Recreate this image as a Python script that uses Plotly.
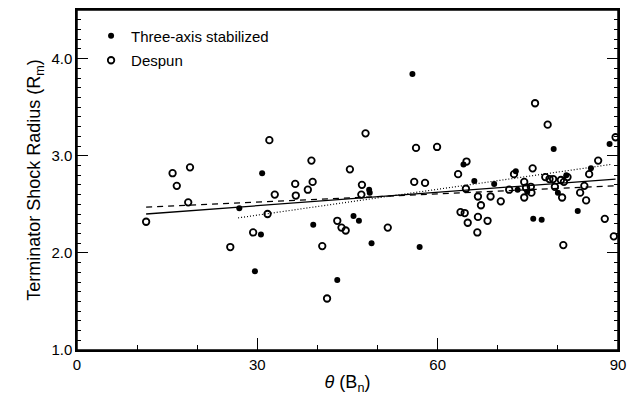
import plotly.graph_objects as go

# Three-axis stabilized (filled)
three_x = [30.8, 27.0, 30.6, 29.6, 55.8, 48.6, 48.7, 46.0, 46.9, 39.3, 49.0, 57.0, 43.3,
           64.3, 79.3, 88.6, 85.5, 73.0, 81.4, 66.1, 69.4, 73.3, 74.9, 80.0, 83.3, 75.9, 77.3]
three_y = [2.82, 2.46, 2.19, 1.81, 3.84, 2.65, 2.62, 2.38, 2.33, 2.29, 2.10, 2.06, 1.72,
           2.91, 3.07, 3.12, 2.87, 2.84, 2.80, 2.74, 2.71, 2.65, 2.63, 2.62, 2.43, 2.35, 2.34]

# Despun (open)
despun_x = [32.0, 15.9, 18.8, 16.6, 18.5, 31.7, 11.5, 29.3, 25.5,
            48.0, 56.4, 59.9, 39.0, 45.4, 63.4, 36.3, 39.2, 56.1, 57.9, 47.4, 38.4, 32.9,
            36.4, 47.3, 43.3, 44.0, 44.7, 51.7, 40.8, 41.6,
            76.2, 78.3, 89.6, 64.8, 86.7, 75.8, 85.2, 72.7, 77.9, 78.6, 79.2, 81.6, 80.5,
            81.0, 74.4, 84.4, 64.7, 71.9, 79.5, 74.7, 75.5, 75.6, 83.7, 66.7, 68.8, 74.4,
            80.7, 70.5, 84.7, 67.2, 63.8, 64.5, 66.7, 65.0, 68.3, 87.8, 66.6, 80.9, 89.3]
despun_y = [3.16, 2.82, 2.88, 2.69, 2.52, 2.40, 2.32, 2.21, 2.06,
            3.23, 3.08, 3.09, 2.95, 2.86, 2.81, 2.71, 2.73, 2.73, 2.72, 2.70, 2.65, 2.60,
            2.59, 2.60, 2.33, 2.26, 2.23, 2.26, 2.07, 1.53,
            3.54, 3.32, 3.19, 2.94, 2.95, 2.87, 2.81, 2.81, 2.78, 2.76, 2.76, 2.78, 2.75,
            2.73, 2.73, 2.69, 2.66, 2.65, 2.68, 2.67, 2.68, 2.62, 2.62, 2.58, 2.58, 2.57,
            2.57, 2.53, 2.54, 2.49, 2.42, 2.41, 2.37, 2.31, 2.33, 2.35, 2.21, 2.08, 2.17]

# Fit lines (endpoints)
fit_solid_x = [11.5, 89.6]
fit_solid_y = [2.40, 2.76]
fit_dash_x = [11.5, 89.6]
fit_dash_y = [2.47, 2.69]
fit_dot_x = [26.8, 88.8]
fit_dot_y = [2.36, 2.91]

FONT = "Liberation Sans, Arial, sans-serif"

fig = go.Figure()
fig.add_trace(go.Scatter(x=fit_solid_x, y=fit_solid_y, mode="lines",
                         line=dict(color="black", width=1.3), showlegend=False))
fig.add_trace(go.Scatter(x=fit_dash_x, y=fit_dash_y, mode="lines",
                         line=dict(color="black", width=1.3, dash="6px,5px"), showlegend=False))
fig.add_trace(go.Scatter(x=fit_dot_x, y=fit_dot_y, mode="lines",
                         line=dict(color="black", width=1.2, dash="1px,2px"), showlegend=False))
fig.add_trace(go.Scatter(x=three_x, y=three_y, mode="markers", name="Three-axis stabilized",
                         legendgroup="a",
                         marker=dict(symbol="circle", size=6, color="black",
                                     line=dict(width=0))))
fig.add_trace(go.Scatter(x=despun_x, y=despun_y, mode="markers", name="Despun",
                         legendgroup="b",
                         marker=dict(symbol="circle-open", size=6.5, color="black",
                                     line=dict(width=1.8, color="black"))))

fig.update_layout(
    width=638, height=402,
    margin=dict(l=77, r=20, t=10, b=52, autoexpand=False),
    paper_bgcolor="white", plot_bgcolor="white",
    font=dict(family=FONT, color="black", size=15),
    showlegend=True,
    legend=dict(x=0.026, y=0.972, xanchor="left", yanchor="top",
                bgcolor="rgba(0,0,0,0)", font=dict(size=15, family=FONT),
                tracegroupgap=2, itemwidth=30),
    xaxis=dict(range=[0, 90], tickvals=[0, 30, 60, 90], ticks="inside", ticklen=12,
               tickwidth=1, tickcolor="black", automargin=False,
               showline=True, linecolor="black", linewidth=1.5, mirror=True,
               showgrid=False, zeroline=False,
               minor=dict(dtick=10, ticks="inside", ticklen=5, tickcolor="black"),
               title=dict(text="<i>θ</i> (B<sub>n</sub>)", font=dict(size=18), standoff=4),
               tickfont=dict(size=15)),
    yaxis=dict(range=[1.0, 4.5], tickvals=[1, 2, 3, 4], tickformat=".1f",
               ticks="inside", ticklen=11, tickwidth=1, tickcolor="black", automargin=False,
               showline=True, linecolor="black", linewidth=1.5, mirror="ticks",
               showgrid=False, zeroline=False,
               minor=dict(dtick=0.1, ticks="inside", ticklen=4, tickcolor="black"),
               title=dict(text="Terminator Shock Radius (R<sub>m</sub>)", font=dict(size=18),
                          standoff=6),
               tickfont=dict(size=15)),
    shapes=[dict(type="rect", xref="paper", yref="paper", x0=0, x1=1, y0=0, y1=1,
                 line=dict(color="black", width=1.5), fillcolor="rgba(0,0,0,0)",
                 layer="above")],
)

fig.write_html("out.html", config={"displayModeBar": False},
               post_script="document.body.style.margin='0';document.body.style.overflow='hidden';")
